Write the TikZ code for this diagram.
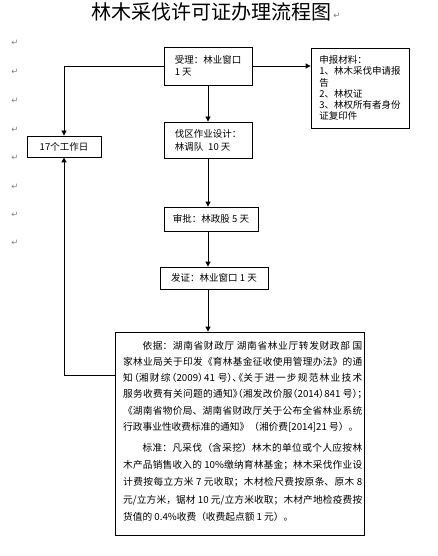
\documentclass[tikz,border=0pt]{standalone}
\usepackage{fontspec}
\setmainfont{Noto Sans CJK SC}
\newfontfamily\symfont{DejaVu Sans}
\usetikzlibrary{arrows.meta}
\XeTeXlinebreaklocale "zh"
\XeTeXlinebreakskip=0pt plus 2pt minus 0.4pt
\tikzset{
  box/.style={draw, line width=0.8pt, inner sep=0pt, align=left,
    font=\fontsize{9.5}{12}\selectfont},
  arr/.style={line width=0.8pt, -{Triangle[length=5pt,width=5pt]}},
  pmark/.style={text=gray, font=\symfont\fontsize{8.5}{8.5}\selectfont, inner sep=0pt}
}
\begin{document}
\begin{tikzpicture}[x=1pt,y=1pt]
\useasboundingbox (0,0) rectangle (437,-556);
% title
\node[font=\fontsize{20}{22}\selectfont, inner sep=0pt] (title) at (211,-12) {林木采伐许可证办理流程图};
\node[pmark] (pmt) at (337,-16) {↵};
% paragraph marks on the left
\node[pmark] (pm1) at (15,-43) {↵};
\node[pmark] (pm2) at (15,-72) {↵};
\node[pmark] (pm3) at (15,-101) {↵};
\node[pmark] (pm4) at (15,-130) {↵};
\node[pmark] (pm5) at (15,-158) {↵};
\node[pmark] (pm6) at (15,-187) {↵};
\node[pmark] (pm7) at (15,-215) {↵};
\node[pmark] (pm8) at (15,-243) {↵};
% boxes
\node[box, minimum width=88, minimum height=38] (accept) at (208,-66) {受理：林业窗口\\1 天};
\node[box, minimum width=98, minimum height=80, font=\fontsize{9.5}{11.2}\selectfont] (materials) at (360,-88)
  {申报材料：\\1、林木采伐申请报\\告\\2、林权证\\3、林权所有者身份\\证复印件};
\node[box, minimum width=74, minimum height=21] (days) at (64,-146.5) {17个工作日};
\node[box, minimum width=88, minimum height=36, font=\fontsize{9.5}{13}\selectfont] (design) at (208,-140)
  {伐区作业设计：\\林调队\hspace{5pt}10 天};
\node[box, minimum width=94, minimum height=24] (approve) at (211,-219) {审批：林政股 5 天};
\node[box, minimum width=108, minimum height=22] (issue) at (214,-278) {发证：林业窗口 1 天};
\node[box, minimum width=249, minimum height=203] (basis) at (239.5,-433.5) {};
\node[anchor=north west, inner sep=0pt, text width=239pt, align=justify] (basistext) at (123,-341)
{\fontsize{9.7}{16.2}\selectfont
\hspace*{2em}依据：湖南省财政厅 湖南省林业厅转发财政部 国\linebreak
家林业局关于印发《育林基金征收使用管理办法》的通\linebreak
{\addfontfeature{RawFeature=+halt}知（湘财综（2009）41 号）、《关于进一步规范林业技术}\linebreak
{\addfontfeature{RawFeature=+halt}服务收费有关问题的通知》（湘发改价服（2014）841 号）；}\linebreak
《湖南省物价局、湖南省财政厅关于公布全省林业系统\linebreak
行政事业性收费标准的通知》（湘价费[2014]21 号）。\par
\vspace{4pt}
\fontsize{9.7}{17.2}\selectfont
\hspace*{2em}标准：凡采伐（含采挖）林木的单位或个人应按林\linebreak
木产品销售收入的 10\%缴纳育林基金；林木采伐作业设\linebreak
计费按每立方米 7 元收取；木材检尺费按原条、原木 8\linebreak
元/立方米，锯材 10 元/立方米收取；木材产地检疫费按\linebreak
货值的 0.4\%收费（收费起点额 1 元）。\par};
% connectors
\draw[arr] (accept.east) -- (accept.east -| materials.west);
\draw[arr] (accept.west) -| (days.north);
\draw[arr] (accept.south) -- (design.north);
\draw[arr] (design.south) -- (design.south |- approve.north);
\draw[arr] (design.south |- approve.south) -- (design.south |- issue.north);
\draw[arr] (design.south |- issue.south) -- (design.south |- basis.north);
\draw[arr] ([yshift=58.5pt]basis.west) -| (days.south);
\end{tikzpicture}
\end{document}
